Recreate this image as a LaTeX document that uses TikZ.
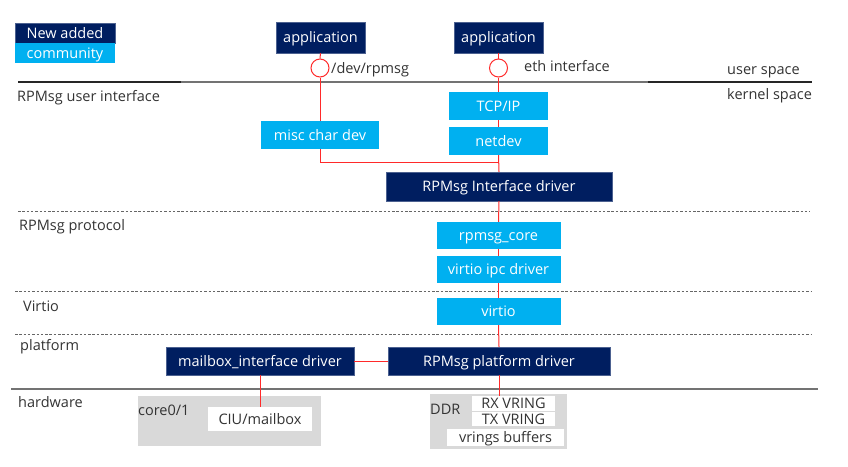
\documentclass[tikz,border=0pt]{standalone}
\usepackage{fontspec}
\setmainfont{Open Sans}
\definecolor{navy}{HTML}{001E60}
\definecolor{cyanbox}{HTML}{00B0F0}
\definecolor{hwgray}{HTML}{D9D9D9}
\definecolor{linkred}{HTML}{FF2A2A}
\definecolor{labelgray}{HTML}{333333}
\begin{document}
\begin{tikzpicture}[x=1pt,y=-1pt,
  every node/.style={inner sep=0pt,text height=10.4pt,text depth=0pt,
    font=\fontsize{14.5}{16}\selectfont},
  newbox/.style={fill=navy,draw=navy!70!white,text=white},
  combox/.style={fill=cyanbox,text=white},
  hwbox/.style={fill=white,text=labelgray},
  lbl/.style={anchor=west,text=labelgray},
  link/.style={draw=linkred,line width=1pt},
  layerline/.style={draw=black!55,line width=1.2pt},
  dashline/.style={draw=black!60,line width=0.9pt,dash pattern=on 2.5pt off 1.8pt}]
\useasboundingbox (0,0) rectangle (848,466);
% legend
\node[newbox,minimum width=100,minimum height=20] (leg1) at (65,33) {New added};
\node[combox,minimum width=100,minimum height=20] (leg2) at (65,53) {community};
% layer separators
\draw[layerline] (18,82) -- (812,82);
\draw[layerline,draw=black!85] (18,82) -- (181,82) (648,82) -- (812,82);
\draw[dashline] (18,211) -- (810,211);
\draw[dashline] (15,291) -- (812,291);
\draw[dashline] (15,334) -- (812,334);
\draw[layerline] (11,389) -- (818,389);
\node[lbl] (us) at (727,68.8) {user space};
\node[lbl] (ks) at (727,93.8) {kernel space};
\node[lbl] (l1) at (17,96.5) {RPMsg user interface};
\node[lbl] (l2) at (19,225.5) {RPMsg protocol};
\node[lbl] (l3) at (23,306.5) {Virtio};
\node[lbl] (l4) at (20,344.8) {platform};
\node[lbl] (l5) at (18,402.5) {hardware};
% hardware blocks
\fill[hwgray] (138,396) rectangle (321,446);
\fill[hwgray] (430,394) rectangle (567,449);
\node[lbl] (core) at (138,410) {core0/1};
\node[lbl] (ddr) at (430,408.8) {DDR};
% user space
\node[newbox,minimum width=89,minimum height=31] (app1) at (320.5,37.5) {application};
\node[newbox,minimum width=89,minimum height=31] (app2) at (498.5,37.5) {application};
\node[circle,draw=linkred,line width=1pt,fill=white,minimum size=18] (if1) at (320,68) {};
\node[circle,draw=linkred,line width=1pt,fill=white,minimum size=18] (if2) at (498.5,68) {};
\node[lbl] (devname) at (331,68.1) {/dev/rpmsg};
\node[lbl] (ethname) at (524,66.5) {eth interface};
% kernel space
\node[combox,minimum width=99,minimum height=28] (tcpip) at (498.5,106) {TCP/IP};
\node[combox,minimum width=99,minimum height=28] (netdev) at (498.5,141) {netdev};
\node[combox,minimum width=118,minimum height=28] (misc) at (320,135) {misc char dev};
\node[newbox,minimum width=226,minimum height=29] (ifdrv) at (499,186.5) {RPMsg Interface driver};
\node[combox,minimum width=124,minimum height=27] (rpcore) at (498.5,235.5) {rpmsg\_core};
\node[combox,minimum width=124,minimum height=27] (vipc) at (498.5,269.5) {virtio ipc driver};
\node[combox,minimum width=124,minimum height=27] (virtio) at (498.5,311.5) {virtio};
\node[newbox,minimum width=188,minimum height=28] (mbdrv) at (260,361) {mailbox\_interface driver};
\node[newbox,minimum width=222,minimum height=28] (platdrv) at (499,361) {RPMsg platform driver};
\node[hwbox,minimum width=104,minimum height=24] (ciu) at (260,419) {CIU/mailbox};
\node[hwbox,minimum width=83,minimum height=15] (rxring) at (513.5,403.5) {RX VRING};
\node[hwbox,minimum width=83,minimum height=14] (txring) at (513.5,419) {TX VRING};
\node[hwbox,minimum width=117,minimum height=17] (vbuf) at (505.5,437.5) {vrings buffers};
\coordinate (join) at (498.5,162);
% connections
\draw[link] (app1.south) -- (if1.north);
\draw[link] (if1.south) -- (misc.north);
\draw[link] (misc.south) |- (join);
\draw[link] (app2.south) -- (if2.north);
\draw[link] (if2.south) -- (tcpip.north);
\draw[link] (tcpip.south) -- (netdev.north);
\draw[link] (netdev.south) -- (ifdrv.north);
\draw[link] (ifdrv.south) -- (rpcore.north);
\draw[link] (rpcore.south) -- (vipc.north);
\draw[link] (vipc.south) -- (virtio.north);
\draw[link] (virtio.south) -- (platdrv.north);
\draw[link] (platdrv.south) -- (rxring.north -| platdrv.south);
\draw[link] (mbdrv.east) -- (platdrv.west);
\draw[link] (mbdrv.south) -- (ciu.north);
\end{tikzpicture}
\end{document}
